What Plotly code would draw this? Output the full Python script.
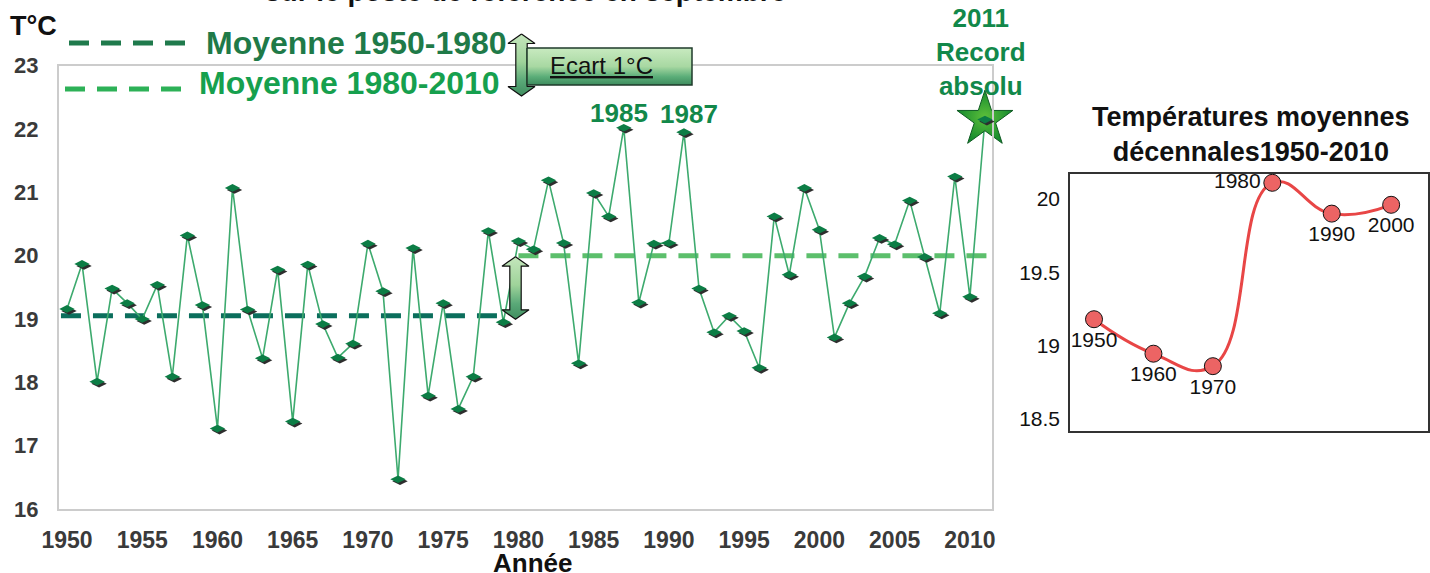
import plotly.graph_objects as go

# ---------------- data ----------------
years = list(range(1950, 2012))
temps = [
    19.16, 19.87, 18.01, 19.48, 19.25, 19.00, 19.54, 18.09, 20.32, 19.22,   # 1950-1959
    17.27, 21.07, 19.15, 18.38, 19.78, 17.38, 19.86, 18.92, 18.39, 18.61,   # 1960-1969
    20.19, 19.44, 16.47, 20.12, 17.79, 19.25, 17.58, 18.09, 20.39, 18.95,   # 1970-1979
    20.23, 20.10, 21.19, 20.20, 18.30, 20.99, 20.62, 22.02, 19.26, 20.19,   # 1980-1989
    20.20, 21.95, 19.48, 18.79, 19.05, 18.81, 18.23, 20.62, 19.70, 21.07,   # 1990-1999
    20.41, 18.71, 19.25, 19.67, 20.28, 20.18, 20.87, 19.98, 19.09, 21.25,   # 2000-2009
    19.35, 22.15,                                                            # 2010-2011
]
x_ticks = [1950, 1955, 1960, 1965, 1970, 1975, 1980, 1985, 1990, 1995, 2000, 2005, 2010]
y_ticks = [16, 17, 18, 19, 20, 21, 22, 23]

mean_1950_1980 = 19.05
mean_1980_2010 = 20.0
mean1_span = [1949.6, 1978.7]
mean2_span = [1980.0, 2011.1]

peak_positions = [1987, 1991]
peak_labels = ["1985", "1987"]

decades = [1950, 1960, 1970, 1980, 1990, 2000]
decade_means = [19.18, 18.945, 18.86, 20.11, 19.90, 19.96]
decade_labels = ["1950", "1960", "1970", "1980", "1990", "2000"]
decade_label_pos = ["bottom center", "bottom center", "bottom center",
                    "middle left", "bottom center", "bottom center"]
inset_ticks = [18.5, 19, 19.5, 20]
inset_ticktext = ["18.5", "19", "19.5", "20"]

# ---------------- geometry helpers ----------------
W, H = 1430, 573
FONT = "Liberation Sans, Arial, sans-serif"


def px(x):
    return x / W


def py(y):
    return 1 - y / H


MAIN_L, MAIN_R, MAIN_T, MAIN_B = 59, 992, 65.7, 509
SH = 2  # shadow offset in px

fig = go.Figure()

# mean lines
fig.add_trace(go.Scatter(x=mean1_span, y=[mean_1950_1980] * 2, mode="lines",
                         line=dict(color="#0b6e5c", width=5, dash="20px,12px"),
                         xaxis="x", yaxis="y", hoverinfo="skip"))
fig.add_trace(go.Scatter(x=mean2_span, y=[mean_1980_2010] * 2, mode="lines",
                         line=dict(color="#5cbf6c", width=5, dash="20px,12px"),
                         xaxis="x", yaxis="y", hoverinfo="skip"))
# main line
fig.add_trace(go.Scatter(x=years, y=temps, mode="lines",
                         line=dict(color="#3daa6e", width=1.6),
                         xaxis="x", yaxis="y"))
# star for record
fig.add_trace(go.Scatter(x=[years[-1]], y=[temps[-1]], mode="markers",
                         marker=dict(symbol="star", size=42, color="#148a2e",
                                     gradient=dict(type="radial", color="#5cbf3a"),
                                     line=dict(color="#0e5a22", width=1)),
                         xaxis="x", yaxis="y", hoverinfo="skip", cliponaxis=False))
# shadow diamonds
fig.add_trace(go.Scatter(x=years, y=temps, mode="markers",
                         marker=dict(symbol="diamond-wide", size=11, color="#2e2e2e"),
                         xaxis="x2", yaxis="y2", hoverinfo="skip", cliponaxis=False))
# diamonds
fig.add_trace(go.Scatter(x=years, y=temps, mode="markers",
                         marker=dict(symbol="diamond-wide", size=11, color="#0c7d45",
                                     line=dict(width=0)),
                         xaxis="x3", yaxis="y3", cliponaxis=False))

# inset decadal chart
fig.add_trace(go.Scatter(x=decades, y=decade_means, mode="lines+markers+text",
                         line=dict(color="#e84646", width=3, shape="spline", smoothing=1.3),
                         marker=dict(symbol="circle", size=17, color="#ec6464",
                                     line=dict(color="#111111", width=1)),
                         text=decade_labels, textposition=decade_label_pos,
                         textfont=dict(family=FONT, size=21, color="#111111"),
                         xaxis="x4", yaxis="y4", cliponaxis=False))

# ---------------- decorations in pixel space (x5/y5) ----------------
fig.add_trace(go.Scatter(x=[69, 185], y=[43, 43], mode="lines",
                         line=dict(color="#1f7a4c", width=5, dash="20px,12px"),
                         xaxis="x5", yaxis="y5", hoverinfo="skip"))
fig.add_trace(go.Scatter(x=[65, 181], y=[89, 89], mode="lines",
                         line=dict(color="#2db157", width=5, dash="20px,12px"),
                         xaxis="x5", yaxis="y5", hoverinfo="skip"))


def arrow(cx, ty, by, hw, hh, sw):
    xs = [cx, cx + hw, cx + sw, cx + sw, cx + hw, cx, cx - hw, cx - sw, cx - sw, cx - hw, cx]
    ys = [ty, ty + hh, ty + hh, by - hh, by - hh, by, by - hh, by - hh, ty + hh, ty + hh, ty]
    return xs, ys


arrow_scale = [[0, "#c4e6bc"], [0.45, "#9fd39a"], [0.75, "#5aa978"], [1, "#3f8d5f"]]
for (cx, ty, by) in [(521.5, 34, 96), (515.5, 256.7, 319.3)]:
    ax_, ay_ = arrow(cx, ty, by, 13.5, 9.5, 5.7)
    fig.add_trace(go.Scatter(x=ax_, y=ay_, mode="lines", fill="toself",
                             fillgradient=dict(type="vertical", colorscale=arrow_scale,
                                               start=ty, stop=by),
                             line=dict(color="#111111", width=1.2),
                             xaxis="x5", yaxis="y5", hoverinfo="skip"))

bx0, bx1, by0, by1 = 527, 692, 48, 85
fig.add_trace(go.Scatter(x=[bx0, bx1, bx1, bx0, bx0], y=[by0, by0, by1, by1, by0],
                         mode="lines", fill="toself",
                         fillgradient=dict(type="vertical",
                                           colorscale=[[0, "#c8eac0"], [0.5, "#a8d8a2"],
                                                       [0.78, "#5aad78"], [1, "#3e8c5e"]],
                                           start=by0, stop=by1),
                         line=dict(color="#1f3b2b", width=1.5),
                         xaxis="x5", yaxis="y5", hoverinfo="skip"))

# ---------------- annotations (pixel axes) ----------------
ann = []
GREEN_D = "#1f7a48"
GREEN_L = "#16a04e"
GREEN_A = "#12884a"


def pa(text, x, y, size, color, xanchor="center", yanchor="middle", bold=True):
    return dict(text=("<b>" + text + "</b>") if bold else text, x=x, y=y,
                xref="x5", yref="y5", xanchor=xanchor, yanchor=yanchor,
                showarrow=False, font=dict(family=FONT, size=size, color=color))


ann.append(pa("sur le poste de référence en septembre", 525, 9, 28, "#111111",
              yanchor="bottom"))
ann.append(pa("T°C", 33, 26, 27, "#111111"))
ann.append(pa("Moyenne 1950-1980", 204, 43, 32, GREEN_D, xanchor="left"))
ann.append(pa("Moyenne 1980-2010", 197, 83, 32, GREEN_L, xanchor="left"))
ann.append(pa("<u>Ecart 1°C</u>", 601, 65, 24, "#111111", bold=False))
for pos, lab, xs, ys in zip(peak_positions, peak_labels, [-5, 5], [15, 18]):
    ann.append(dict(text="<b>" + lab + "</b>", x=pos, y=temps[years.index(pos)],
                    xref="x", yref="y", xanchor="center", yanchor="middle",
                    xshift=xs, yshift=ys, showarrow=False,
                    font=dict(family=FONT, size=26, color=GREEN_A)))
ann.append(pa("2011<br>Record<br>absolu", 981, 52, 26, GREEN_A))
ann.append(pa("Année", 532, 563, 26, "#111111"))
ann.append(pa("Températures moyennes<br>décennales1950-2010", 1251, 134, 27, "#111111"))

# ---------------- layout ----------------
tickfont_main = dict(family=FONT, size=23, color="#3a3a3a", weight="bold")
hidden = dict(visible=False, showgrid=False, zeroline=False, fixedrange=True, automargin=False)
xr = [1949.47, 2011.47]
yr = [16, 23]

fig.update_layout(
    width=W, height=H, margin=dict(l=0, r=0, t=0, b=0, pad=0, autoexpand=False),
    paper_bgcolor="white", plot_bgcolor="rgba(0,0,0,0)",
    showlegend=False, annotations=ann,
    font=dict(family=FONT),
    xaxis=dict(domain=[px(MAIN_L), px(MAIN_R)], range=xr, anchor="y",
               tickvals=x_ticks, ticks="", showgrid=False, zeroline=False,
               showline=True, mirror=True, linecolor="#cccccc", linewidth=2,
               tickfont=tickfont_main, ticklabelstandoff=9, fixedrange=True,
               automargin=False),
    yaxis=dict(domain=[py(MAIN_B), py(MAIN_T)], range=yr, anchor="x",
               tickvals=y_ticks, ticks="", showgrid=False, zeroline=False,
               showline=True, mirror=True, linecolor="#cccccc", linewidth=2,
               tickfont=dict(family=FONT, size=22, color="#3a3a3a", weight="bold"),
               ticklabelstandoff=14, fixedrange=True, automargin=False),
    xaxis2=dict(domain=[px(MAIN_L + SH), px(MAIN_R + SH)], range=xr, anchor="y2", **hidden),
    yaxis2=dict(domain=[py(MAIN_B + SH), py(MAIN_T + SH)], range=yr, anchor="x2", **hidden),
    xaxis3=dict(domain=[px(MAIN_L), px(MAIN_R)], range=xr, anchor="y3", **hidden),
    yaxis3=dict(domain=[py(MAIN_B), py(MAIN_T)], range=yr, anchor="x3", **hidden),
    xaxis4=dict(domain=[px(1070), px(1428)], range=[1945.96, 2006.2], anchor="y4",
                showticklabels=False, ticks="", showgrid=False, zeroline=False,
                showline=True, mirror=True, linecolor="#333333", linewidth=1.5,
                fixedrange=True, automargin=False),
    yaxis4=dict(domain=[py(430.7), py(174)], range=[18.42, 20.17], anchor="x4",
                tickvals=inset_ticks, ticktext=inset_ticktext, ticks="",
                showgrid=False, zeroline=False,
                showline=True, mirror=True, linecolor="#333333", linewidth=1.5,
                tickfont=dict(family=FONT, size=21, color="#111111"),
                ticklabelstandoff=4, fixedrange=True, automargin=False),
    xaxis5=dict(domain=[0, 1], range=[0, W], anchor="y5", **hidden),
    yaxis5=dict(domain=[0, 1], range=[H, 0], anchor="x5", **hidden),
)

fig.write_html("out.html", config={"displayModeBar": False},
               post_script="document.body.style.margin='0';")
